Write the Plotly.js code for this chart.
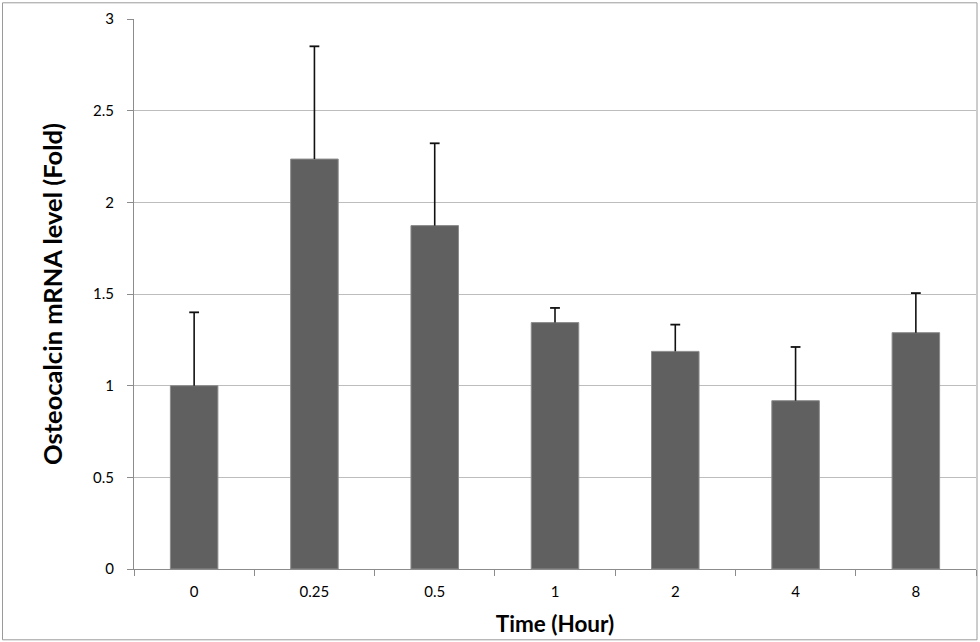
<!DOCTYPE html>
<html>
<head>
<meta charset="utf-8">
<script src="https://cdn.plot.ly/plotly-3.0.1.min.js"></script>
<style>
html,body{margin:0;padding:0;background:#fff;}
#chart{width:980px;height:642px;}
</style>
</head>
<body>
<div id="chart"></div>
<script>
var categories = ["0", "0.25", "0.5", "1", "2", "4", "8"];
var foldValues = [1.00, 2.236, 1.873, 1.344, 1.187, 0.918, 1.289];
var errorPlus = [0.40, 0.615, 0.449, 0.08, 0.146, 0.293, 0.216];
var yTicks = [0, 0.5, 1, 1.5, 2, 2.5, 3];
var yTickLabels = ["0", "0.5", "1", "1.5", "2", "2.5", "3"];

var W = 980, H = 642;
var L = 134, R = 4, T = 18.7, B = 73.3;
var pw = W - L - R, ph = H - T - B;

var bars = {
  type: "bar",
  x: categories,
  y: foldValues,
  width: 0.395,
  marker: {color: "#606060", line: {color: "#8c8c8c", width: 1}},
  hoverinfo: "x+y"
};

// upper-only error bars: stem line from bar top to value+error, with a cap at the top
var stemX = [], stemY = [];
categories.forEach(function(c, i) {
  stemX.push(c, c, null);
  stemY.push(foldValues[i], foldValues[i] + errorPlus[i], null);
});
var stems = {
  type: "scatter", mode: "lines",
  x: stemX, y: stemY,
  line: {color: "#111111", width: 1.6},
  hoverinfo: "skip", cliponaxis: false
};
var caps = {
  type: "scatter", mode: "markers",
  x: categories,
  y: foldValues.map(function(v, i) { return v + errorPlus[i]; }),
  marker: {symbol: "line-ew", size: 7, color: "#111111", line: {color: "#111111", width: 1.8}},
  hoverinfo: "skip", cliponaxis: false
};

var layout = {
  width: W, height: H,
  margin: {l: L, r: R, t: T, b: B, pad: 0},
  paper_bgcolor: "#ffffff",
  plot_bgcolor: "#ffffff",
  showlegend: false,
  font: {family: "Lato, 'Open Sans', sans-serif", color: "#000000", size: 15},
  xaxis: {
    type: "category",
    tickson: "boundaries",
    ticks: "outside",
    ticklen: 6,
    tickcolor: "#8c8c8c",
    tickwidth: 1,
    showline: true,
    linecolor: "#8c8c8c",
    linewidth: 1,
    showgrid: false,
    zeroline: false,
    tickfont: {size: 15, color: "#000"},
    ticklabelstandoff: 9,
    automargin: true,
    title: {text: "<b>Time (Hour)</b>", font: {size: 22.5, color: "#000"}, standoff: 17}
  },
  yaxis: {
    range: [0, 3],
    tickvals: yTicks,
    ticktext: yTickLabels,
    ticks: "outside",
    ticklen: 6,
    tickcolor: "#8c8c8c",
    tickwidth: 1,
    showline: true,
    linecolor: "#8c8c8c",
    linewidth: 1,
    showgrid: true,
    gridcolor: "#bdbdbd",
    gridwidth: 1,
    zeroline: false,
    tickfont: {size: 15, color: "#000"},
    ticklabelstandoff: 10,
    automargin: true,
    title: {text: "<b>Osteocalcin mRNA level (Fold)</b>", font: {size: 25.5, color: "#000"}, standoff: 23}
  },
  shapes: [{
    type: "rect", xref: "paper", yref: "paper", layer: "below",
    x0: (2.5 - L) / pw, x1: (977 - L) / pw,
    y0: (T + ph - 639.5) / ph, y1: (T + ph - 2.5) / ph,
    line: {color: "#9a9a9a", width: 1}, fillcolor: "rgba(0,0,0,0)"
  }]
};

Plotly.newPlot("chart", [bars, stems, caps], layout, {displayModeBar: false, staticPlot: true});
</script>
</body>
</html>
